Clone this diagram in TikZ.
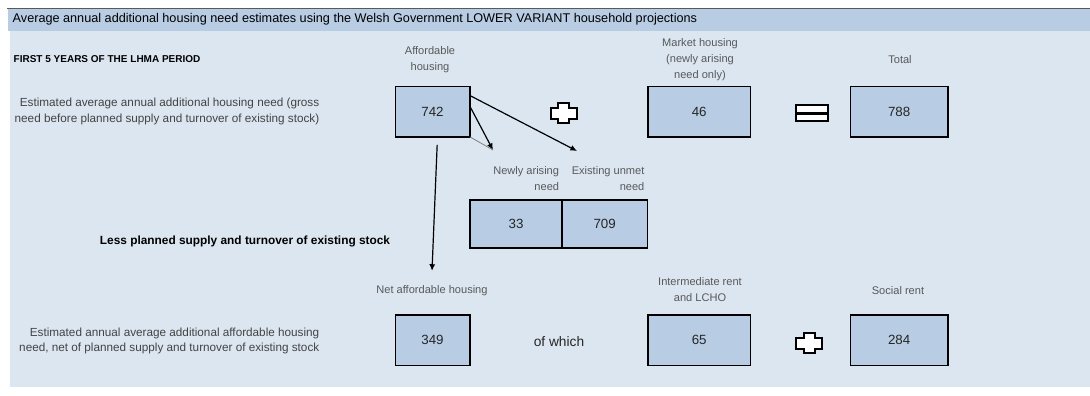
\documentclass[tikz,border=0pt]{standalone}
\usepackage{fontspec}
\setmainfont{Liberation Sans}
\usetikzlibrary{arrows.meta,positioning}
\definecolor{hdrblue}{HTML}{B8CCE4}
\definecolor{panelblue}{HTML}{DCE6F1}
\definecolor{cellblue}{HTML}{B8CCE4}
\definecolor{lbltext}{HTML}{595959}
\definecolor{valtext}{HTML}{262626}
\tikzset{
  cell/.style={draw, fill=cellblue, line width=1pt, minimum height=38pt, inner sep=0pt, outer sep=0pt,
    font=\fontsize{10}{12}\selectfont, text=valtext},
  lbl/.style={font=\fontsize{8.3}{12}\selectfont, text=lbltext, align=center, inner sep=1pt},
  note/.style={font=\fontsize{8.8}{11.5}\selectfont, text=lbltext!75!black, align=right, anchor=east},
  flow/.style={line width=0.9pt, -{Latex[length=5pt,width=4.5pt]}},
  plussign/.pic={\draw[line width=1.5pt, fill=white] (-13,-5.5) -- (-5.5,-5.5) -- (-5.5,-10) -- (5.5,-10) -- (5.5,-5.5) -- (13,-5.5)
    -- (13,5.5) -- (5.5,5.5) -- (5.5,10) -- (-5.5,10) -- (-5.5,5.5) -- (-13,5.5) -- cycle;},
  equalsign/.pic={\fill (-17,-9) rectangle (17,9); \fill[white] (-15,-7) rectangle (15,-1.5); \fill[white] (-15,1.5) rectangle (15,7);}
}

\begin{document}
\begin{tikzpicture}[x=0.75pt,y=-0.75pt]
\useasboundingbox (0,0) rectangle (1090,396);
\fill[white] (0,0) rectangle (1090,396);
\fill[panelblue] (10,31) rectangle (1090,387);
\fill[hdrblue] (8,9) rectangle (1090,31);
\draw[gray!70!black, line width=1.2pt] (7,8.5) -- (1090,8.5);
\node[anchor=west, font=\fontsize{9.5}{11}\selectfont] (title) at (8,19.5) {Average annual additional housing need estimates using the Welsh Government LOWER VARIANT household projections};
\node[anchor=west, font=\bfseries\fontsize{7.5}{8}\selectfont] (period) at (9,59) {FIRST 5 YEARS OF THE LHMA PERIOD};
% gross need row
\node[cell, minimum width=56pt] (aff) at (432.5,111.5) {742};
\node[cell, minimum width=77pt, right=133.5pt of aff] (mkt) {46};
\node[cell, minimum width=73pt, right=75pt of mkt] (tot) {788};
\node[lbl] (afflbl) at (430,60) {Affordable\\housing}; \node[lbl] (mktlbl) at (700,60) {Market housing\\(newly arising\\need only)};
\node[lbl] (totlbl) at (900,60) {Total};
\node[note] (grossnote) at (324,111.5) {Estimated average annual additional housing need (gross\\need before planned supply and turnover of existing stock)};
\pic at (563.5,113) {plussign}; \pic at (812,113) {equalsign};
% split of affordable need
\node[cell, minimum width=69pt, minimum height=36pt] (newn) at (516,224) {33};
\node[cell, minimum width=64pt, minimum height=36pt, right=0pt of newn] (unmet) {709};
\node[lbl, align=right, above left=6pt and 1pt of newn.north east] (newlbl) {Newly arising\\need};
\node[lbl, align=right, above left=6pt and 1pt of unmet.north east] (unmetlbl) {Existing unmet\\need};
\coordinate (newtip) at (493,150); \coordinate (unmettip) at (577,151);
\draw[flow] ([yshift=-15pt]aff.north east) -- (newtip);
\draw[flow] ([yshift=-7pt]aff.north east) -- (unmettip);
\draw[gray, line width=0.6pt] (aff.south east) -- (newtip);
\node[font=\bfseries\fontsize{8.9}{10}\selectfont] (less) at (245,241) {Less planned supply and turnover of existing stock};
% net need row
\node[cell, minimum width=56pt, below=133.5pt of aff] (net) {349};
\node[cell, minimum width=77pt, right=133.5pt of net] (inter) {65};
\node[cell, minimum width=73pt, right=75pt of inter] (social) {284};
\node[lbl] (netlbl) at (432,291) {Net affordable housing}; \node[lbl] (interlbl) at (700,290) {Intermediate rent\\and LCHO};
\node[lbl] (sociallbl) at (898,291) {Social rent};
\node[note] (netnote) at (324,341) {Estimated annual average additional affordable housing\\need, net of planned supply and turnover of existing stock};
\node[font=\fontsize{10.3}{12}\selectfont, text=valtext] (ofwhich) at (559,342) {of which};
\pic at (809,343) {plussign};
\draw[flow] ([xshift=3.5pt,yshift=-6pt]aff.south) -- ([yshift=10pt]netlbl.north);
\end{tikzpicture}
\end{document}
